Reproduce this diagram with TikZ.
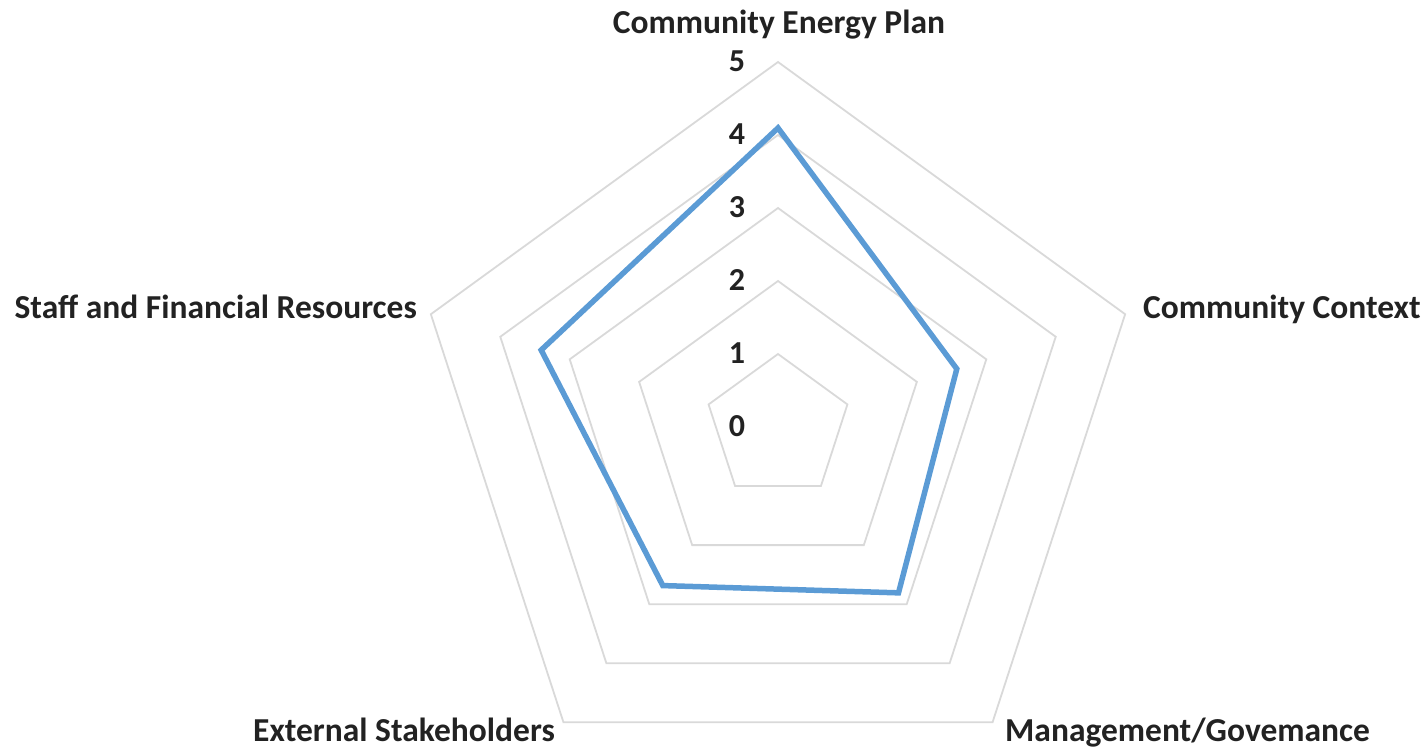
\documentclass[tikz,border=0pt]{standalone}
\usepackage{fontspec}
\setmainfont{Carlito}
\definecolor{gridgray}{HTML}{D9D9D9}
\definecolor{seriesblue}{HTML}{5B9BD5}
\definecolor{labelgray}{HTML}{222222}
\begin{document}
\begin{tikzpicture}[x=1pt,y=-1pt,
  grid/.style={draw=gridgray,line width=1.8pt,line join=miter},
  series/.style={draw=seriesblue,line width=5.5pt,line join=miter},
  axlabel/.style={font=\fontsize{33.5}{38}\selectfont\bfseries,text=labelgray,inner sep=0pt},
  ticklabel/.style={font=\fontsize{32}{36}\selectfont\bfseries,text=labelgray,inner sep=0pt,anchor=base}]
\useasboundingbox (0,0) rectangle (1425,750);
\coordinate (c) at (778,427);
% grid pentagons (levels 1..5)
\foreach \r in {73,146,219,292,365}
  \draw[grid,shift={(778,427)}] (270:\r) -- (342:\r) -- (54:\r) -- (126:\r) -- (198:\r) -- cycle;
% tick labels
\foreach \v in {0,...,5}
  \node[ticklabel] (t\v) at (737,{427-73*\v+9.5}) {\v};
% data series
\begin{scope}[shift={(778,427)}]
  \coordinate (d1) at (270:299);
  \coordinate (d2) at (342:188);
  \coordinate (d3) at (54:205);
  \coordinate (d4) at (126:196);
  \coordinate (d5) at (198:249);
\end{scope}
\draw[series] (d1) -- (d2) -- (d3) -- (d4) -- (d5) -- cycle;
% axis labels
\node[axlabel,anchor=base] (a1) at (779,33) {Community Energy Plan};
\node[axlabel,anchor=base west] (a2) at (1143,318) {Community Context};
\node[axlabel,anchor=base west] (a3) at (1005,741) {Management/Govemance};
\node[axlabel,anchor=base east] (a4) at (555,741) {External Stakeholders};
\node[axlabel,anchor=base east] (a5) at (417,318) {Staff and Financial Resources};
\end{tikzpicture}
\end{document}
